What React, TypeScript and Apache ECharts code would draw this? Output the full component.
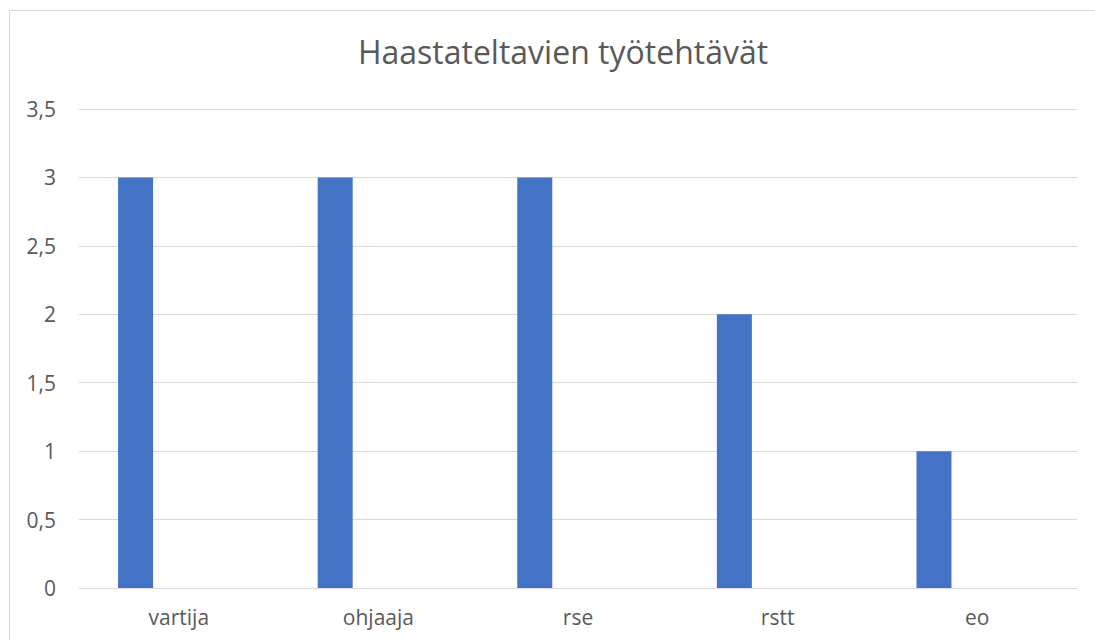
import React, { useEffect, useRef } from "react";
import * as echarts from "echarts";

const categories = ["vartija", "ohjaaja", "rse", "rstt", "eo"];
const values = [3, 3, 3, 2, 1];
const emptySeries = [null, null, null, null, null];
const titleText = "Haastateltavien työtehtävät";

export default function App() {
  const ref = useRef<HTMLDivElement>(null);
  useEffect(() => {
    const chart = echarts.init(ref.current!, null, { renderer: "svg" });
    chart.setOption({
      animation: false,
      backgroundColor: "#ffffff",
      textStyle: { fontFamily: "Open Sans" },
      title: {
        text: titleText,
        left: 558,
        top: 30,
        textAlign: "center",
        textStyle: { fontFamily: "Open Sans", fontSize: 32, fontWeight: "normal", color: "#595959" },
      },
      graphic: [
        {
          type: "rect",
          shape: { x: 9.5, y: 10.5, width: 1300, height: 1000 },
          style: { fill: "none", stroke: "#d9d9d9", lineWidth: 1 },
          silent: true,
        },
      ],
      grid: { left: 79, right: 18, top: 109, bottom: 52 },
      xAxis: {
        type: "category",
        data: categories,
        axisLine: { show: false },
        axisTick: { show: false },
        axisLabel: { color: "#595959", fontSize: 21, margin: 18, fontFamily: "Open Sans" },
      },
      yAxis: {
        type: "value",
        min: 0,
        max: 3.5,
        interval: 0.5,
        axisLine: { show: false },
        axisTick: { show: false },
        splitLine: { lineStyle: { color: "#d9d9d9", width: 1 } },
        axisLabel: {
          color: "#595959",
          fontSize: 21,
          margin: 23,
          fontFamily: "Open Sans",
          formatter: (v: number) => String(v).replace(".", ","),
        },
      },
      series: [
        {
          type: "bar",
          data: values,
          barWidth: 35,
          barGap: "147%",
          itemStyle: { color: "#4472c4" },
        },
        {
          type: "bar",
          data: emptySeries,
          barWidth: 35,
          itemStyle: { color: "#ed7d31" },
        },
      ],
    });
    return () => chart.dispose();
  }, []);
  return (
    <div
      ref={ref}
      style={{ position: "absolute", left: 0, top: 0, width: 1095, height: 640 }}
    />
  );
}
